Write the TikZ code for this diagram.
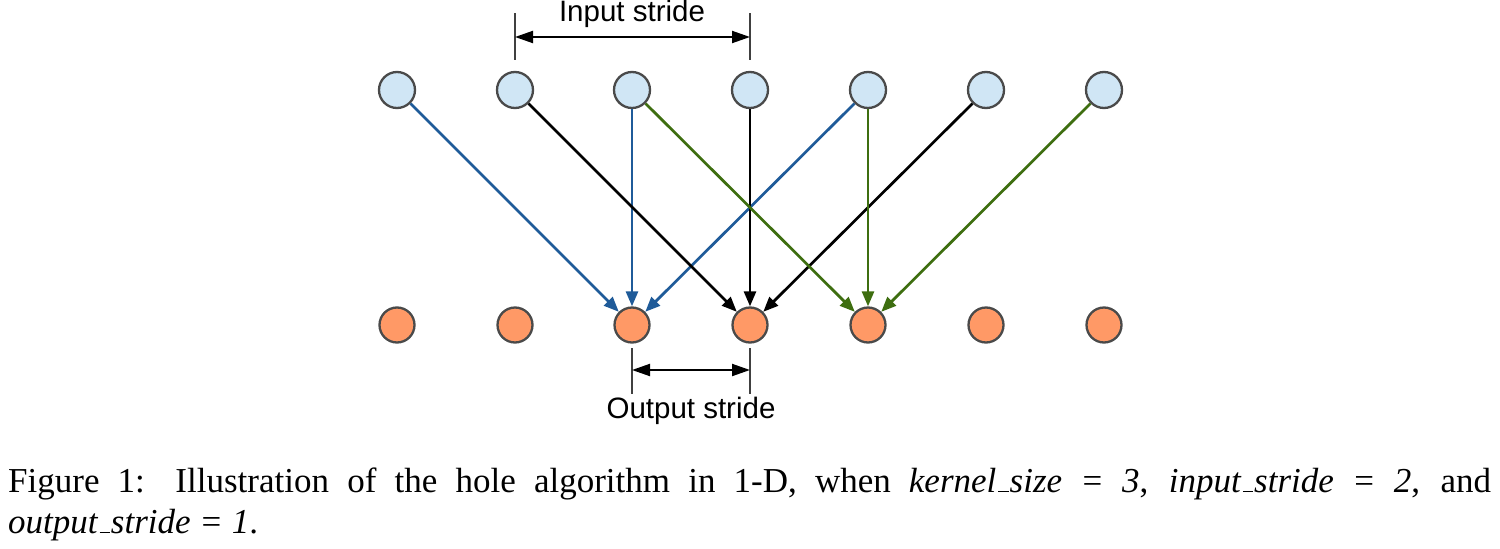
\documentclass[tikz,border=0pt]{standalone}
\usepackage{fontspec}
\setmainfont{Liberation Serif}
\newfontfamily\labelfont{Liberation Sans}
\usetikzlibrary{arrows.meta}
\definecolor{inblue}{HTML}{D0E6F5}
\definecolor{outorange}{HTML}{FF9966}
\definecolor{ringgray}{HTML}{4A4A4A}
\definecolor{arrblue}{HTML}{1F5B99}
\definecolor{arrgreen}{HTML}{3E6E10}
\newcommand\myuscore{\leavevmode\kern.06em\vbox{\hrule width.3em height 1.3pt}\kern.02em}
\tikzset{
  innode/.style={circle, draw=ringgray, line width=2.3pt, fill=inblue, minimum size=36pt, inner sep=0pt},
  outnode/.style={circle, draw=ringgray, line width=2.3pt, fill=outorange, minimum size=35pt, inner sep=0pt},
  conn/.style={line width=2.7pt, -{Triangle[length=15pt,width=12pt]}},
  dimline/.style={line width=2pt, {Triangle[length=18pt,width=12pt]}-{Triangle[length=18pt,width=12pt]}},
  tickline/.style={line width=2pt, draw=black!75},
  lbl/.style={font=\labelfont\fontsize{29.5}{34}\selectfont, inner sep=0pt},
  captext/.style={font=\fontsize{35}{40}\selectfont, inner sep=0pt, anchor=base west}
}
\begin{document}
\begin{tikzpicture}[x=1pt,y=-1pt]
\useasboundingbox (0,0) rectangle (1500,549);
% input and output nodes
\foreach \i/\x in {0/397,1/515,2/632,3/750,4/868,5/986,6/1104}{
  \node[innode] (in\i) at (\x,90) {};
  \node[outnode] (out\i) at (\x,325) {};
}
% connectors
\draw[conn, draw=arrblue, fill=arrblue] (in0) -- (out2);
\draw[conn, draw=arrblue, fill=arrblue] (in2) -- (out2);
\draw[conn, draw=arrblue, fill=arrblue] (in4) -- (out2);
\draw[conn, draw=black, fill=black] (in1) -- (out3);
\draw[conn, draw=black, fill=black] (in3) -- (out3);
\draw[conn, draw=black, fill=black] (in5) -- (out3);
\draw[conn, draw=arrgreen, fill=arrgreen] (in2) -- (out4);
\draw[conn, draw=arrgreen, fill=arrgreen] (in4) -- (out4);
\draw[conn, draw=arrgreen, fill=arrgreen] (in6) -- (out4);
% input stride
\coordinate (ista) at (515,13);
\coordinate (istb) at (515,60);
\coordinate (isua) at (750,13);
\coordinate (isub) at (750,60);
\draw[tickline] (ista) -- (istb);
\draw[tickline] (isua) -- (isub);
\coordinate (isl) at (515,37);
\coordinate (isr) at (750,37);
\draw[dimline] (isl) -- (isr);
\node[lbl] (islabel) at (632,14) {Input stride};
% output stride
\coordinate (osta) at (632,348);
\coordinate (ostb) at (632,394);
\coordinate (osua) at (750,348);
\coordinate (osub) at (750,394);
\draw[tickline] (osta) -- (ostb);
\draw[tickline] (osua) -- (osub);
\coordinate (osl) at (632,370);
\coordinate (osr) at (750,370);
\draw[dimline] (osl) -- (osr);
\node[lbl] (oslabel) at (691,411) {Output stride};
% caption
\node[captext] (cap1) at (8,492) {\makebox[1483pt][s]{Figure 1: Illustration of the hole algorithm in 1-D, when \textit{kernel\myuscore size = 3}, \textit{input\myuscore stride = 2}, and}};
\node[captext] (cap2) at (8,533) {\textit{output\myuscore stride = 1}.};
\end{tikzpicture}
\end{document}
